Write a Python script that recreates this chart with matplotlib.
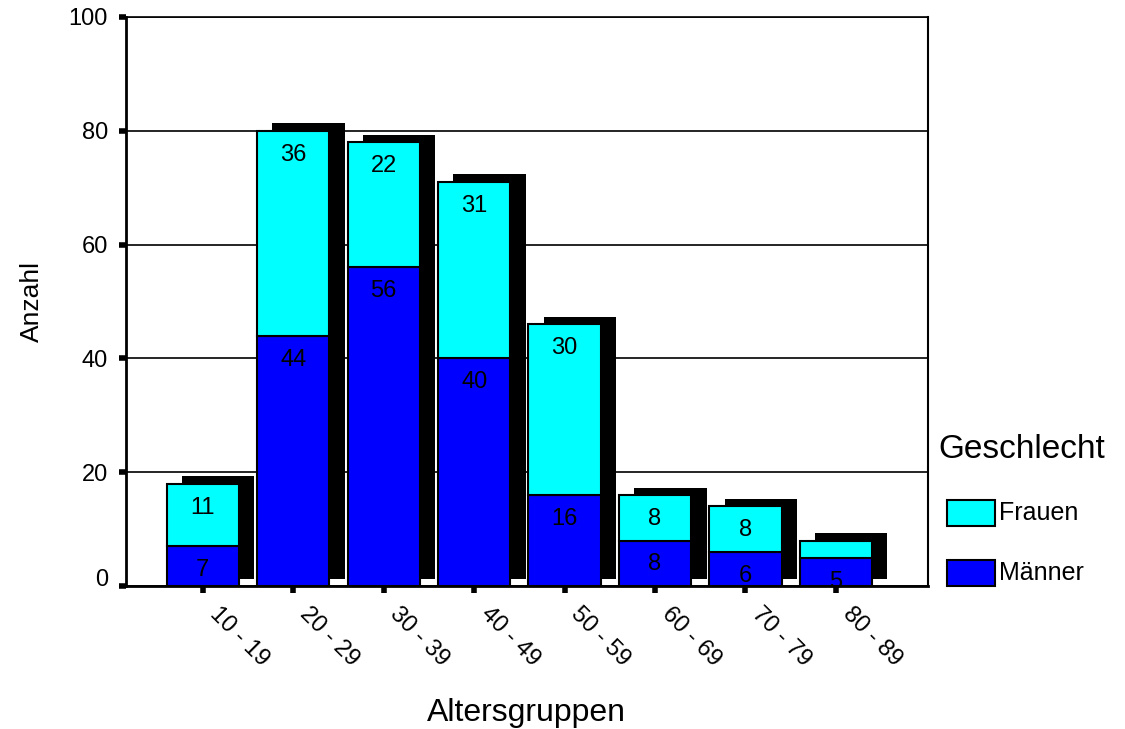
import matplotlib
matplotlib.use("Agg")
import numpy as np
from matplotlib import pyplot as plt
from matplotlib.patches import Rectangle
from matplotlib.transforms import ScaledTranslation

plt.rcParams['font.family'] = ['Liberation Sans', 'DejaVu Sans']

altersgruppen = ["10 - 19", "20 - 29", "30 - 39", "40 - 49",
                 "50 - 59", "60 - 69", "70 - 79", "80 - 89"]
maenner = [7, 44, 56, 40, 16, 8, 6, 5]
frauen = [11, 36, 22, 31, 30, 8, 8, 3]
y_ticks = [0, 20, 40, 60, 80, 100]

farbe_frauen = "#00FFFF"
farbe_maenner = "#0000FF"

x = np.arange(len(altersgruppen))
maenner = np.array(maenner)
frauen = np.array(frauen)
gesamt = maenner + frauen

breite = 0.8
schatten_dx = 0.17
schatten_dy = 1.3

fig = plt.figure(figsize=(11.25, 7.29), dpi=100)
ax = fig.add_axes([0.112, 0.196, 0.713, 0.781])

# schwarzer Schatten hinter jedem Balken
ax.bar(x - breite / 2 + schatten_dx, gesamt, width=breite, bottom=schatten_dy,
       align='edge', color='black', linewidth=0, zorder=2)
ax.bar(x, maenner, width=breite, color=farbe_maenner, edgecolor='black',
       linewidth=1.5, zorder=3)
ax.bar(x, frauen, width=breite, bottom=maenner, color=farbe_frauen,
       edgecolor='black', linewidth=1.5, zorder=3)

# Werte unter der Oberkante jedes Segments
for xi, m, f in zip(x, maenner, frauen):
    if m >= 4:
        ax.text(xi, m - 4.2, str(m), ha='center', va='center', fontsize=17, zorder=4)
    if f >= 4:
        ax.text(xi, m + f - 4.2, str(f), ha='center', va='center', fontsize=17, zorder=4)

ax.set_xlim(-0.85, 8.02)
ax.set_ylim(0, 100)
ax.set_yticks(y_ticks)
ax.set_yticklabels([str(v) for v in y_ticks], fontsize=17)
ax.set_xticks(x)
ax.set_xticklabels(altersgruppen, fontsize=17, rotation=-45, ha='left',
                   va='center', rotation_mode='anchor')
ax.tick_params(axis='both', direction='out', length=5, width=4, color='black')
ax.tick_params(axis='x', pad=13)
ax.tick_params(axis='y', pad=8)

# Beschriftungen der x-Achse etwas nach rechts
for lbl in ax.get_xticklabels():
    lbl.set_transform(lbl.get_transform() + ScaledTranslation(0.1, 0, fig.dpi_scale_trans))

# die "0" sitzt etwas höher als ihr Tick
lbl0 = ax.get_yticklabels()[0]
lbl0.set_transform(lbl0.get_transform() + ScaledTranslation(0, 0.09, fig.dpi_scale_trans))

ax.yaxis.grid(True, color='black', linewidth=1.2, zorder=0)
ax.set_axisbelow(True)
for side in ['left', 'bottom', 'right', 'top']:
    ax.spines[side].set_linewidth(2)
ax.spines['top'].set_linewidth(1.2)
ax.spines['right'].set_linewidth(1.5)

ax.set_ylabel("Anzahl", fontsize=19, labelpad=18)
fig.text(0.468, 1 - 713 / 729, "Altersgruppen", ha='center', va='center', fontsize=23)

# Legende
fig.text(0.834, 1 - 450 / 729, "Geschlecht", ha='left', va='center', fontsize=24)
for y_pix, farbe, text in [(513, farbe_frauen, "Frauen"), (573, farbe_maenner, "Männer")]:
    fig.patches.append(Rectangle((947 / 1125, 1 - (y_pix + 13) / 729), 48 / 1125, 26 / 729,
                                 transform=fig.transFigure, facecolor=farbe,
                                 edgecolor='black', linewidth=1.5))
    fig.text(999 / 1125, 1 - y_pix / 729, text, ha='left', va='center', fontsize=18)

plt.savefig("out.png", dpi=100)
